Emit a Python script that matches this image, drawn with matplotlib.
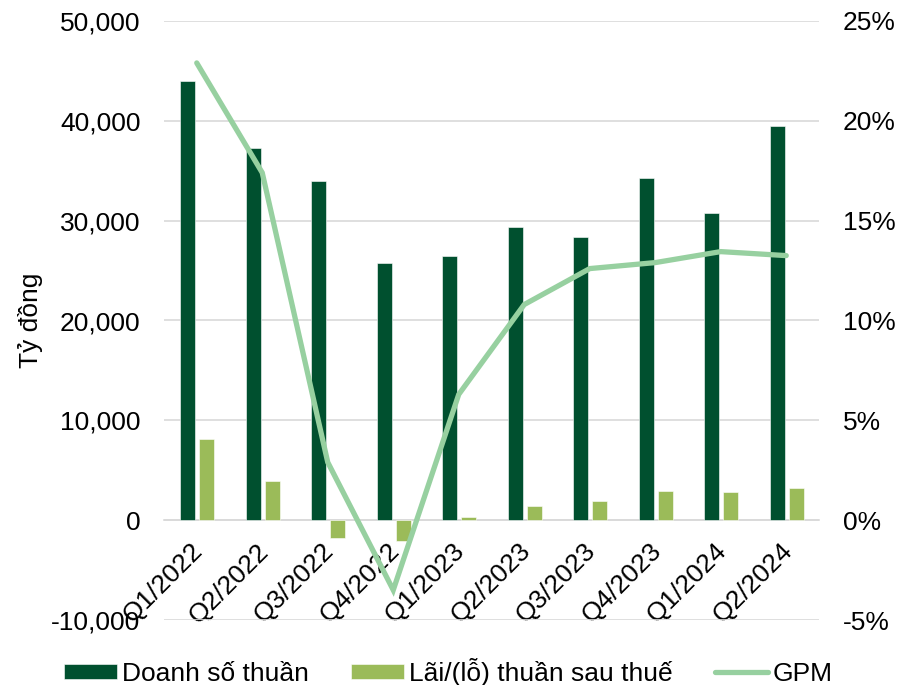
import matplotlib
matplotlib.use("Agg")
import matplotlib.pyplot as plt
import numpy as np
from matplotlib.ticker import FuncFormatter, MultipleLocator
from matplotlib.transforms import ScaledTranslation

plt.rcParams['font.family'] = ['Liberation Sans', 'DejaVu Sans']
plt.rcParams['font.size'] = 19

DARK = '#00502F'    # doanh so
LIGHT = '#9BBB59'   # lai/lo
LINE = '#97D0A0'    # GPM
GRID = '#D9D9D9'

# ── Data ──────────────────────────────────────────────────────────────────────
quarters = ['Q1/2022', 'Q2/2022', 'Q3/2022', 'Q4/2022', 'Q1/2023',
            'Q2/2023', 'Q3/2023', 'Q4/2023', 'Q1/2024', 'Q2/2024']
revenue = [44000, 37300, 34000, 25750, 26500, 29400, 28400, 34250, 30750, 39450]
net_profit = [8150, 3950, -1800, -2050, 350, 1400, 1950, 2900, 2800, 3250]
gpm = [0.229, 0.174, 0.029, -0.035, 0.063, 0.108, 0.126, 0.129, 0.1345, 0.1325]

x = np.arange(len(quarters))
w = 0.23

fig = plt.figure(figsize=(8.97, 6.85), dpi=100)
ax = fig.add_axes([164 / 897, 1 - 620 / 685, 655 / 897, 599 / 685])
ax2 = ax.twinx()

ax.bar(x - 0.14, revenue, w, color=DARK, edgecolor='white', lw=0.4,
       label='Doanh số thuần', zorder=3)
ax.bar(x + 0.15, net_profit, w, color=LIGHT, edgecolor='white', lw=0.4,
       label='Lãi/(lỗ) thuần sau thuế', zorder=3)
ax2.plot(x, gpm, color=LINE, lw=3.8, solid_capstyle='round',
         solid_joinstyle='miter', label='GPM', zorder=4)

# ── Axes ──────────────────────────────────────────────────────────────────────
ax.set_xlim(-0.5, len(quarters) - 0.5)
ax.set_ylim(-10000, 50000)
ax.yaxis.set_major_locator(MultipleLocator(10000))
ax.yaxis.set_major_formatter(FuncFormatter(lambda v, p: f'{v:,.0f}'))
ax2.set_ylim(-0.05, 0.25)
ax2.yaxis.set_major_locator(MultipleLocator(0.05))
ax2.yaxis.set_major_formatter(FuncFormatter(lambda v, p: f'{v * 100:.0f}%'))

ax.grid(axis='y', color=GRID, lw=1.2, zorder=0)
ax.set_axisbelow(True)
for a in (ax, ax2):
    for s in ('top', 'left', 'right'):
        a.spines[s].set_visible(False)
ax2.spines['bottom'].set_visible(False)
ax.spines['bottom'].set_position(('data', 0))
ax.spines['bottom'].set_color(GRID)
ax.spines['bottom'].set_linewidth(1.2)

ax.set_xticks(x)
ax.set_xticklabels(quarters, rotation=45, ha='right', va='top',
                   rotation_mode='anchor')
ax.tick_params(axis='x', length=0, pad=12)
ax.tick_params(axis='y', length=0, pad=17)
ax2.tick_params(axis='y', length=0, pad=17)
# nudge rotated labels a little left/down like the original
shift = ScaledTranslation(-6 / 100, -2 / 100, fig.dpi_scale_trans)
for lab in ax.get_xticklabels():
    lab.set_transform(lab.get_transform() + shift)

ax.set_ylabel('Tỷ đồng')
ax.yaxis.set_label_coords((43 - 164) / 655, 0.5)

# ── Legend ────────────────────────────────────────────────────────────────────
h1, l1 = ax.get_legend_handles_labels()
h2, l2 = ax2.get_legend_handles_labels()
fig.legend(h1 + h2, l1 + l2, loc='center', bbox_to_anchor=(0.5, 1 - 672 / 685),
           ncol=3, frameon=False, handlelength=2.0, handleheight=0.53,
           handletextpad=0.2, columnspacing=1.6, borderaxespad=0)

fig.savefig('out.png', dpi=100)
plt.close(fig)
